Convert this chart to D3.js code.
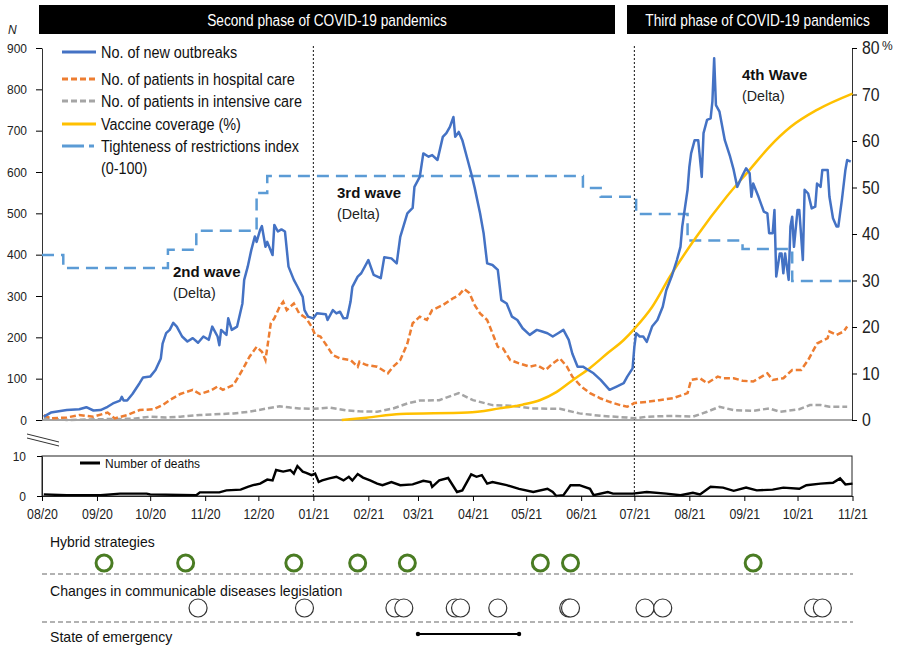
<!DOCTYPE html>
<html><head><meta charset="utf-8">
<script src="https://cdn.jsdelivr.net/npm/d3@7"></script>
<style>
body{margin:0;background:#fff;}
svg{display:block;font-family:'Liberation Sans',Arial,sans-serif;}
</style></head><body>
<svg id="c" width="897" height="649"></svg>
<script>
// time values are days since 2020-08-01
const outbreaks = [[1,8],[5,18],[14,24],[21,26],[25,31],[29,23],[33,24],[37,32],[40,40],[44,47],[45,56],[46,47],[48,47],[51,63],[55,89],[57,103],[61,105],[64,121],[67,149],[68,185],[70,210],[72,218],[74,235],[76,226],[79,202],[82,190],[85,198],[88,187],[91,202],[94,194],[96,226],[99,202],[100,181],[101,218],[104,206],[105,246],[107,218],[110,226],[113,282],[114,339],[116,371],[118,411],[120,444],[121,431],[123,460],[124,469],[126,419],[127,431],[130,399],[131,472],[133,456],[135,461],[137,456],[139,371],[142,339],[144,323],[147,298],[148,266],[150,250],[153,246],[155,258],[160,256],[161,242],[164,266],[166,258],[168,262],[170,246],[172,247],[174,287],[175,322],[178,347],[180,355],[184,387],[187,351],[191,343],[193,394],[197,391],[200,379],[202,443],[206,500],[209,513],[210,564],[213,588],[215,645],[218,637],[220,641],[223,629],[226,685],[228,694],[230,709],[232,733],[233,685],[235,697],[237,677],[240,629],[242,597],[244,561],[247,500],[249,452],[251,379],[254,375],[257,363],[259,290],[262,282],[265,250],[268,242],[271,222],[275,206],[279,218],[282,214],[285,210],[288,202],[291,210],[294,218],[297,194],[299,161],[302,129],[305,129],[308,121],[311,113],[315,97],[320,73],[324,81],[328,89],[330,105],[333,125],[334,177],[335,210],[337,202],[339,202],[341,189],[344,226],[347,242],[350,274],[352,314],[355,347],[358,387],[360,419],[361,468],[364,557],[365,612],[366,645],[368,677],[370,677],[372,588],[373,694],[375,726],[377,730],[378,770],[379,875],[380,762],[382,746],[385,677],[388,637],[390,605],[392,564],[395,592],[397,609],[399,597],[400,540],[401,572],[404,540],[407,504],[409,500],[410,452],[412,452],[413,508],[414,347],[416,403],[417,403],[418,355],[419,403],[421,339],[422,468],[423,492],[424,419],[426,508],[427,508],[429,387],[430,557],[432,548],[434,512],[436,516],[437,572],[439,564],[440,605],[443,605],[444,540],[446,488],[448,468],[449,468],[451,532],[453,605],[454,629],[456,625]];

const hospital = [[1,12],[5,4],[14,6],[21,12],[29,8],[37,18],[41,4],[48,12],[55,24],[63,26],[68,36],[72,48],[78,63],[85,73],[89,63],[95,71],[99,81],[102,73],[108,85],[113,121],[117,153],[121,177],[124,165],[126,145],[129,234],[131,246],[134,274],[136,286],[138,266],[142,282],[145,258],[149,246],[152,226],[154,206],[157,202],[161,177],[164,157],[168,149],[174,145],[178,129],[179,141],[183,133],[189,129],[195,113],[198,129],[202,145],[206,185],[209,234],[213,250],[217,242],[220,266],[226,278],[232,295],[235,302],[238,317],[241,307],[244,278],[247,258],[251,242],[254,210],[257,177],[260,173],[264,145],[269,137],[275,129],[279,133],[284,121],[288,137],[292,149],[296,129],[299,105],[304,81],[309,65],[315,52],[320,44],[326,36],[330,32],[334,41],[341,44],[348,48],[356,53],[364,65],[366,97],[371,101],[375,89],[381,105],[384,101],[390,101],[395,95],[401,93],[409,113],[412,97],[418,101],[423,121],[428,121],[432,145],[437,185],[443,198],[444,214],[448,206],[452,214],[454,226]];

const intensive = [[1,5],[14,0],[33,2],[51,3],[61,8],[70,6],[78,8],[89,12],[108,16],[117,20],[127,28],[134,33],[140,30],[145,28],[153,27],[162,30],[172,23],[179,21],[189,20],[198,28],[206,40],[213,47],[224,48],[235,65],[243,48],[254,36],[266,34],[277,28],[292,27],[303,16],[315,10],[330,6],[334,4],[341,8],[356,10],[367,8],[375,20],[382,32],[390,24],[401,22],[410,28],[416,20],[427,26],[433,36],[439,36],[444,32],[454,32]];

const vaccine = [[169,0],[183,0.5],[202,1.3],[240,1.6],[258,2.5],[271,3.3],[281,4.3],[290,6.0],[299,8.5],[309,11.2],[319,14.4],[328,17.2],[334,19.6],[344,24.3],[354,30.8],[369,39.4],[386,48.0],[399,53.8],[410,58.7],[422,63.0],[437,66.7],[457,70.2]];

const restrictions = [[0,35.5],[12,32.7],[71,36.6],[87,40.7],[121,48.8],[127,52.5],[305,49.9],[315,48.0],[335,44.3],[364,38.6],[395,36.8],[423,29.9],[457,29.9]];

const deaths = [[1,0.4],[14,0.2],[33,0.2],[44,0.6],[59,0.6],[61,0.4],[87,0.2],[89,0.9],[100,0.9],[104,1.4],[112,1.6],[116,2.3],[119,2.7],[123,3.1],[127,4.1],[130,3.9],[132,6.5],[136,6.1],[140,6.5],[142,5.6],[144,7.5],[147,6.1],[149,5.8],[152,5.2],[154,5.6],[156,3.5],[158,3.9],[162,4.4],[166,4.8],[170,3.9],[173,4.8],[175,3.9],[178,5.5],[181,4.6],[185,3.9],[189,3.1],[192,2.7],[197,3.5],[202,2.7],[209,2.9],[215,3.8],[219,3.5],[220,2.3],[224,3.9],[229,4.5],[234,1.0],[237,1.4],[242,5.4],[245,4.8],[248,5.2],[251,3.1],[254,3.5],[262,2.7],[269,1.8],[277,1.0],[285,1.8],[288,1.0],[290,0],[294,0.2],[298,2.7],[303,2.7],[309,1.8],[311,0.2],[319,1.0],[322,0.6],[333,0.6],[341,1.0],[352,0.6],[360,0.2],[367,0.8],[371,0.4],[377,2.3],[384,2.1],[390,1.3],[397,2.1],[403,1.4],[412,1.6],[418,2.1],[427,1.8],[431,2.7],[439,3.1],[446,3.3],[450,4.4],[453,2.9],[457,3.1]];

const hybridStrategies = [35,81,142,178,206,281,298,401];
const legislationChanges = [88,148,199,204,233,236,257,297,298,340,350,435,440];
const emergencyPeriod = [212,269];
const phaseBoundaries = [153,334];

const leftTicks = [0,100,200,300,400,500,600,700,800,900];
const rightTicks = [0,10,20,30,40,50,60,70,80];
const deathTicks = [0,10];

const legendItems = [
  {label:"No. of new outbreaks", color:"#4472C4", dash:null},
  {label:"No. of patients in hospital care", color:"#ED7D31", dash:"6,3"},
  {label:"No. of patients in intensive care", color:"#A5A5A5", dash:"6,3"},
  {label:"Vaccine coverage (%)", color:"#FFC000", dash:null},
  {label:"Tighteness of restrictions index", color:"#5B9BD5", dash:"22,5,5,50"}
];

const D = d => new Date(Date.UTC(2020,7,1+d));
const svg = d3.select("#c");
function condense(sel, k){
  sel.each(function(){
    const l = this.getComputedTextLength();
    this.setAttribute("textLength", (l*k).toFixed(1));
    this.setAttribute("lengthAdjust","spacingAndGlyphs");
  });
  return sel;
}

const x = d3.scaleUtc().domain([Date.UTC(2020,7,1), Date.UTC(2021,10,1)]).range([42, 852.5]);
const yL = d3.scaleLinear().domain([0,900]).range([420,48]);
const yR = d3.scaleLinear().domain([0,80]).range([420,48]);
const yD = d3.scaleLinear().domain([0,10]).range([496,456]);

// banners (text squeezed horizontally with a transform)
const banners = [{t:"Second phase of COVID-19 pandemics", x0:39, x1:615},{t:"Third phase of COVID-19 pandemics", x0:627, x1:888}];
banners.forEach(b=>{
  svg.append("rect").attr("x",b.x0).attr("y",5).attr("width",b.x1-b.x0).attr("height",29).attr("fill","#000");
  svg.append("g").attr("transform",`translate(${(b.x0+b.x1)/2},25.5) scale(0.83,1)`)
    .append("text").attr("x",0).attr("y",0).attr("text-anchor","middle").attr("fill","#fff").attr("font-size",16.5).text(b.t);
});

// axes
const gL = svg.append("g").attr("transform","translate(42,0)").call(d3.axisLeft(yL).tickValues(leftTicks).tickSize(6).tickSizeOuter(0).tickPadding(9));
gL.selectAll("text").attr("font-size",13).attr("font-family","inherit").attr("fill","#222");
condense(gL.selectAll("text"),0.92);
gL.select(".domain").attr("stroke","#333");
const gR = svg.append("g").attr("transform","translate(852,0)").call(d3.axisRight(yR).tickValues(rightTicks).tickSize(5).tickSizeOuter(0).tickPadding(5));
gR.selectAll("text").attr("font-size",18).attr("font-family","inherit").attr("fill","#222");
condense(gR.selectAll("text"),0.88);
gR.select(".domain").attr("stroke","#333");
svg.append("text").attr("x",882).attr("y",50).attr("font-size",12).attr("fill","#222").text("%");
svg.append("text").attr("x",8).attr("y",34).attr("font-size",12).attr("font-style","italic").attr("fill","#222").text("N");
// baseline
svg.append("line").attr("x1",42).attr("x2",852).attr("y1",yL(0)).attr("y2",yL(0)).attr("stroke","#888").attr("stroke-width",1.5);

// vertical phase lines
svg.selectAll(".vl").data(phaseBoundaries).enter().append("line")
  .attr("x1",d=>x(D(d))).attr("x2",d=>x(D(d))).attr("y1",46).attr("y2",498)
  .attr("stroke","#111").attr("stroke-width",1).attr("stroke-dasharray","2,2");

// series
const line = (ys, curve) => d3.line().x(d=>x(D(d[0]))).y(d=>ys(d[1])).curve(curve||d3.curveLinear);
svg.append("path").datum(restrictions).attr("d",line(yR,d3.curveStepAfter)).attr("fill","none").attr("stroke","#5B9BD5").attr("stroke-width",2.5).attr("stroke-dasharray","12,7");
svg.append("path").datum(intensive).attr("d",line(yL)).attr("fill","none").attr("stroke","#A5A5A5").attr("stroke-width",2.5).attr("stroke-dasharray","6,3");
svg.append("path").datum(hospital).attr("d",line(yL)).attr("fill","none").attr("stroke","#ED7D31").attr("stroke-width",2.5).attr("stroke-dasharray","6,3");
svg.append("path").datum(vaccine).attr("d",line(yR,d3.curveMonotoneX)).attr("fill","none").attr("stroke","#FFC000").attr("stroke-width",2.5);
svg.append("path").datum(outbreaks).attr("d",line(yL)).attr("fill","none").attr("stroke","#4472C4").attr("stroke-width",2.5).attr("stroke-linejoin","round");

// legend
const ly = [52,79,101,124,146];
const lt = [58,85,107,130,152];
legendItems.forEach((it,i)=>{
  svg.append("line").attr("x1",62).attr("x2",96).attr("y1",ly[i]).attr("y2",ly[i]).attr("stroke",it.color).attr("stroke-width",3).attr("stroke-dasharray",it.dash);
  condense(svg.append("text").attr("x",101).attr("y",lt[i]).attr("font-size",16).attr("fill","#111").text(it.label),0.9);
});
condense(svg.append("text").attr("x",101).attr("y",174).attr("font-size",16).attr("fill","#111").text("(0-100)"),0.9);

// annotations
const ann = [{x:173,y:277,t:"2nd wave"},{x:337,y:198,t:"3rd wave"},{x:742,y:80,t:"4th Wave"}];
ann.forEach(a=>{
  svg.append("text").attr("x",a.x).attr("y",a.y).attr("font-size",15).attr("font-weight","bold").attr("fill","#111").text(a.t);
  condense(svg.append("text").attr("x",a.x).attr("y",a.y+21).attr("font-size",15).attr("fill","#222").text("(Delta)"),0.95);
});

// break mark
svg.append("line").attr("x1",27).attr("y1",434).attr("x2",59).attr("y2",442).attr("stroke","#333").attr("stroke-width",1);
svg.append("line").attr("x1",27).attr("y1",438).attr("x2",59).attr("y2",446).attr("stroke","#333").attr("stroke-width",1);

// deaths panel
svg.append("rect").attr("x",42).attr("y",456).attr("width",810).attr("height",40).attr("fill","none").attr("stroke","#222").attr("stroke-width",1);
svg.append("path").datum(deaths).attr("d",line(yD)).attr("fill","none").attr("stroke","#000").attr("stroke-width",2.4);
const gD = svg.append("g").attr("transform","translate(42,0)").call(d3.axisLeft(yD).tickValues(deathTicks).tickSize(5).tickSizeOuter(0).tickPadding(11));
gD.selectAll("text").attr("font-size",13).attr("font-family","inherit").attr("fill","#222");
condense(gD.selectAll("text"),0.92);
gD.select(".domain").attr("stroke","#222");
const gX = svg.append("g").attr("transform","translate(0,496)").call(d3.axisBottom(x).ticks(d3.utcMonth.every(1)).tickFormat(d3.utcFormat("%m/%y")).tickSize(5).tickSizeOuter(0).tickPadding(7));
gX.selectAll("text").attr("font-size",15).attr("font-family","inherit").attr("fill","#222");
condense(gX.selectAll("text"),0.82);
gX.select(".domain").attr("stroke","#222");
svg.append("line").attr("x1",80).attr("x2",100).attr("y1",463).attr("y2",463).attr("stroke","#000").attr("stroke-width",3);
condense(svg.append("text").attr("x",105).attr("y",468).attr("font-size",13).attr("fill","#111").text("Number of deaths"),0.92);

// bottom events
condense(svg.append("text").attr("x",50).attr("y",547).attr("font-size",15).attr("fill","#111").text("Hybrid strategies"),0.93);
condense(svg.append("text").attr("x",50).attr("y",596).attr("font-size",15).attr("fill","#111").text("Changes in communicable diseases legislation"),0.94);
condense(svg.append("text").attr("x",50).attr("y",642).attr("font-size",15).attr("fill","#111").text("State of emergency"),0.94);
[574,622].forEach(yy=>svg.append("line").attr("x1",42).attr("x2",853).attr("y1",yy).attr("y2",yy).attr("stroke","#999").attr("stroke-width",1.5).attr("stroke-dasharray","5,3"));
svg.selectAll(".hy").data(hybridStrategies).enter().append("circle")
  .attr("cx",d=>x(D(d))).attr("cy",563).attr("r",8).attr("fill","#fff").attr("stroke","#4A7C23").attr("stroke-width",3);
svg.selectAll(".lg").data(legislationChanges).enter().append("circle")
  .attr("cx",d=>x(D(d))).attr("cy",608).attr("r",9).attr("fill","#fff").attr("stroke","#333").attr("stroke-width",1.2);
svg.append("line").attr("x1",x(D(emergencyPeriod[0]))).attr("x2",x(D(emergencyPeriod[1]))).attr("y1",634).attr("y2",634).attr("stroke","#000").attr("stroke-width",2);
emergencyPeriod.forEach(d=>svg.append("circle").attr("cx",x(D(d))).attr("cy",634).attr("r",2.2).attr("fill","#000"));
</script></body></html>
